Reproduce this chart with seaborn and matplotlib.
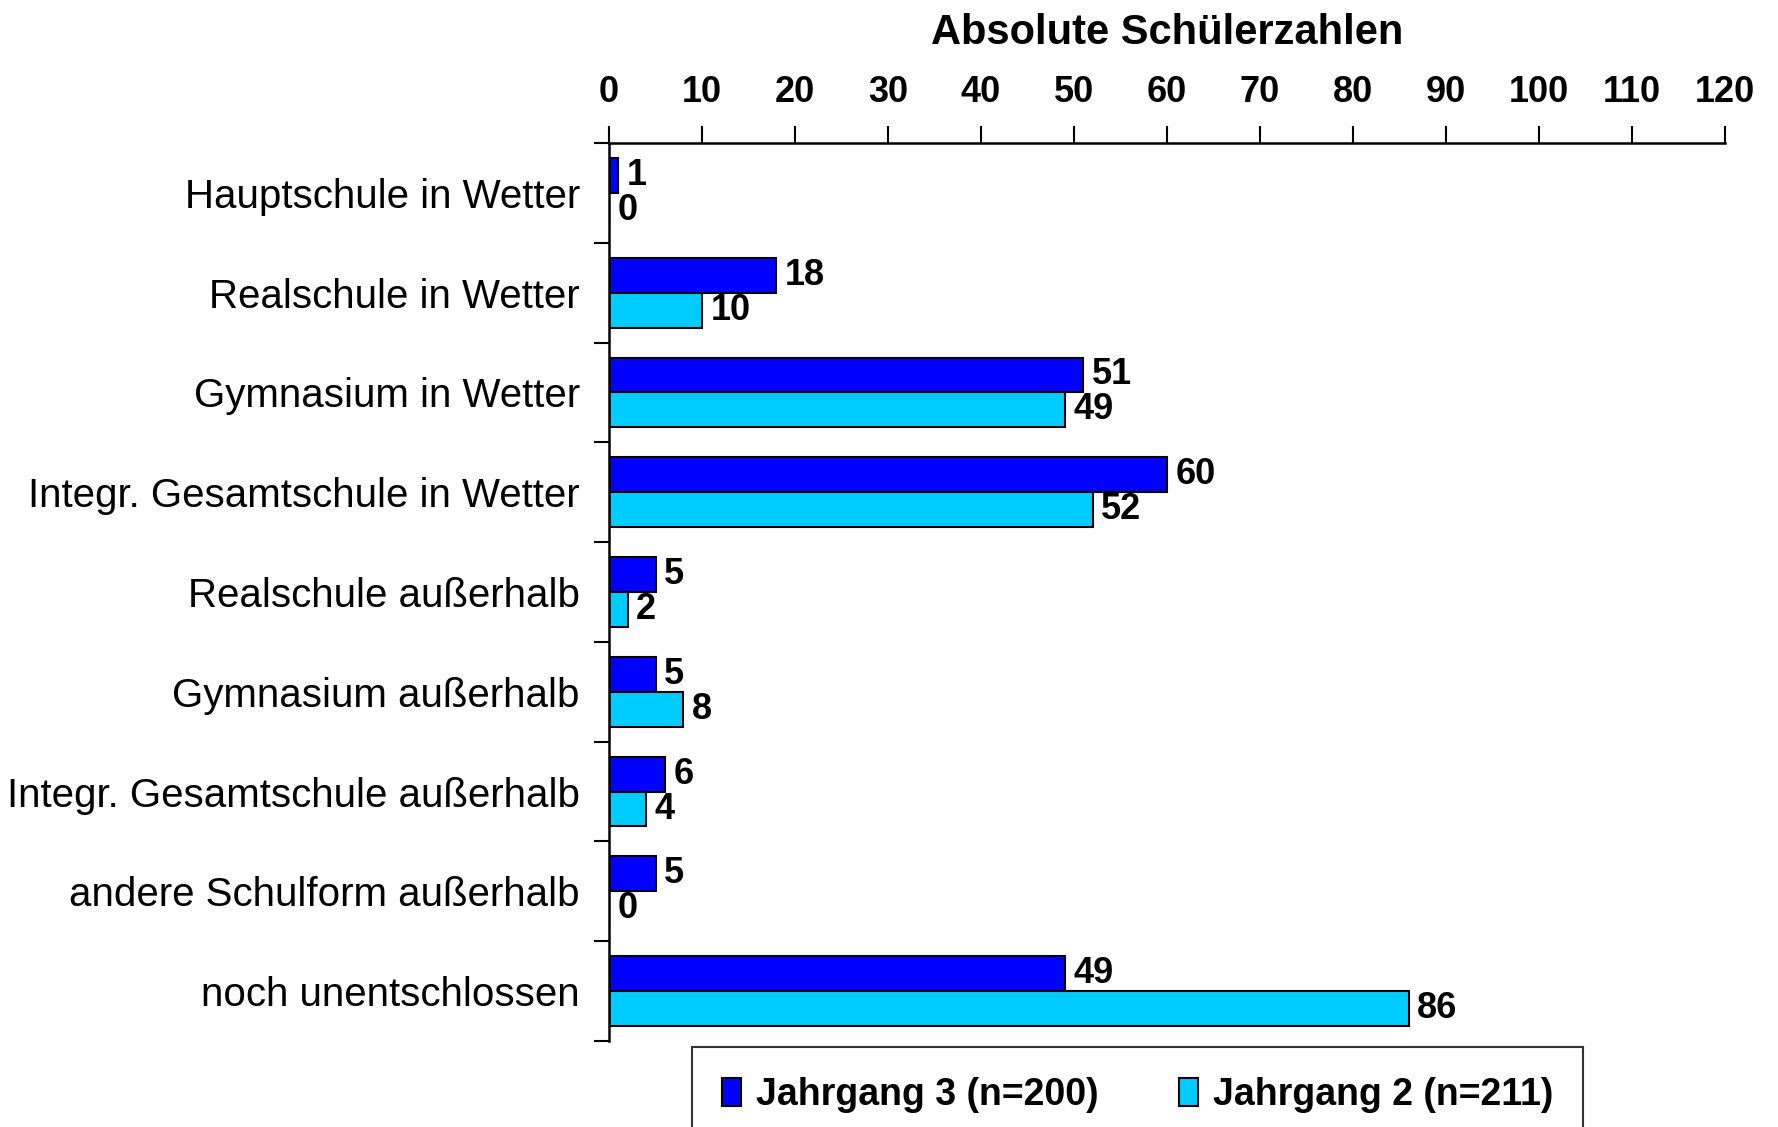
import matplotlib
matplotlib.use("Agg")
import matplotlib.pyplot as plt
import seaborn as sns
import pandas as pd
import numpy as np
from matplotlib.ticker import FixedLocator

categories = [
    "Hauptschule in Wetter",
    "Realschule in Wetter",
    "Gymnasium in Wetter",
    "Integr. Gesamtschule in Wetter",
    "Realschule außerhalb",
    "Gymnasium außerhalb",
    "Integr. Gesamtschule außerhalb",
    "andere Schulform außerhalb",
    "noch unentschlossen",
]
jahrgang3 = [1, 18, 51, 60, 5, 5, 6, 5, 49]
jahrgang2 = [0, 10, 49, 52, 2, 8, 4, 0, 86]
series_names = ["Jahrgang 3 (n=200)", "Jahrgang 2 (n=211)"]
x_ticks = [0, 10, 20, 30, 40, 50, 60, 70, 80, 90, 100, 110, 120]
colors = ["#0000FF", "#00CCFF"]

df = pd.DataFrame({
    "Schule": categories * 2,
    "Anzahl": jahrgang3 + jahrgang2,
    "Jahrgang": [series_names[0]] * len(categories) + [series_names[1]] * len(categories),
})

sns.set_theme(style="white")
plt.rcParams["font.family"] = ["Liberation Sans", "DejaVu Sans"]
plt.rcParams["text.color"] = "black"
plt.rcParams["axes.labelcolor"] = "black"
plt.rcParams["xtick.color"] = "black"
plt.rcParams["ytick.color"] = "black"

W, H = 1778, 1127
fig = plt.figure(figsize=(W / 100, H / 100), dpi=100)
ax = fig.add_axes([609 / W, 1 - 1041 / H, (1725 - 609) / W, (1041 - 143) / H])

sns.barplot(data=df, y="Schule", x="Anzahl", hue="Jahrgang", order=categories,
            hue_order=series_names, palette=colors, orient="h", width=0.7,
            edgecolor="black", linewidth=1.5, saturation=1, ax=ax, legend=True)

for cont in ax.containers:
    texts = ax.bar_label(cont, fmt="%d", padding=6, fontsize=26, fontweight="bold", color="black")

ax.set_xlim(0, 120)
ax.set_ylim(len(categories) - 0.5, -0.5)
ax.xaxis.set_ticks_position("top")
ax.xaxis.set_label_position("top")
ax.set_xticks(x_ticks)
ax.set_xticklabels([str(t) for t in x_ticks], fontsize=26, fontweight="bold", color="black")
ax.tick_params(axis="x", direction="out", length=12, width=1.5, color="black", pad=12)
ax.set_xlabel("Absolute Schülerzahlen", fontsize=30, fontweight="bold", labelpad=22, color="black")
ax.set_ylabel("")

ax.tick_params(axis="y", which="major", length=0, pad=21, labelsize=29, labelcolor="black")
ax.yaxis.set_minor_locator(FixedLocator(np.arange(-0.5, len(categories), 1.0)))
ax.tick_params(axis="y", which="minor", direction="out", length=11, width=1.5, color="black", left=True)

for s in ["right", "bottom"]:
    ax.spines[s].set_visible(False)
for s in ["top", "left"]:
    ax.spines[s].set_visible(True)
    ax.spines[s].set_color("black")
    ax.spines[s].set_linewidth(1.8)

ax.legend_.remove()
handles = [plt.Rectangle((0, 0), 1, 1, facecolor=c, edgecolor="black", linewidth=1.5) for c in colors]
top = 1 - 1047 / H
leg = fig.legend(handles, series_names, loc="upper left",
                 bbox_to_anchor=(692 / W, top - 0.1, (1583 - 692) / W, 0.1),
                 mode="expand", ncol=2, frameon=True, fancybox=False,
                 prop={"family": "Liberation Sans", "weight": "bold", "size": 27},
                 handlelength=0.5, handleheight=0.75, handletextpad=0.4,
                 borderpad=0.8, borderaxespad=0, columnspacing=1.5)
leg.get_frame().set_edgecolor("black")
leg.get_frame().set_linewidth(1.5)
for t in leg.get_texts():
    t.set_color("black")

fig.savefig("out.png", dpi=100)
